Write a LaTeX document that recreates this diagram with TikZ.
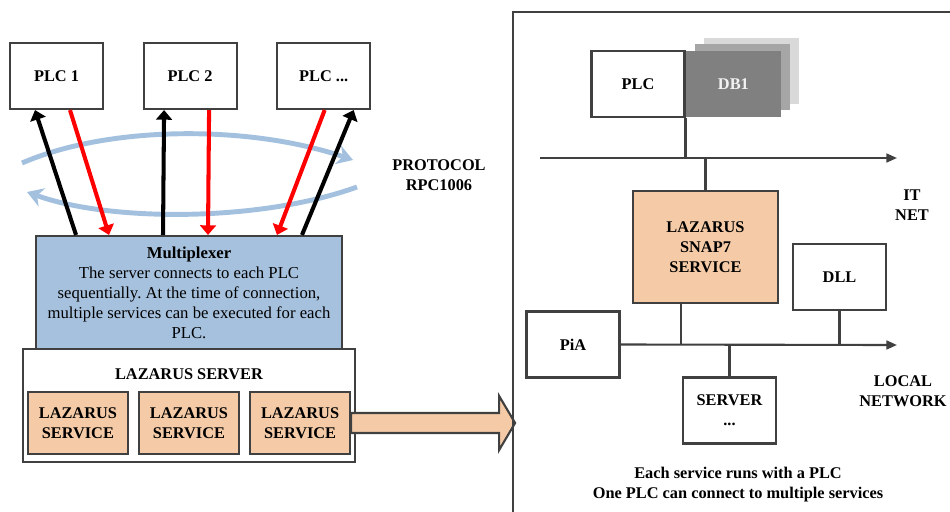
\documentclass[tikz,border=0pt]{standalone}
\usepackage{fontspec}
\setmainfont{Liberation Serif}
\usepackage{tikz}
\usetikzlibrary{positioning,arrows.meta}
\frenchspacing
\definecolor{muxblue}{HTML}{A6C1DD}
\definecolor{svcpeach}{HTML}{F5CBA7}
\definecolor{flowblue}{HTML}{A3C1DF}
\definecolor{edgegray}{HTML}{404040}
\newcommand{\diagfont}{\fontsize{9.3}{11.4}\selectfont}
\tikzset{
  plcbox/.style={rectangle, draw=edgegray, line width=1.2pt, fill=white, minimum width=1.86cm, minimum height=1.32cm, inner sep=1pt, font=\diagfont\bfseries, align=center},
  svcbox/.style={plcbox, fill=svcpeach, minimum width=2.0cm, minimum height=1.24cm},
  dbbox/.style={rectangle, minimum width=1.9cm, minimum height=1.32cm, inner sep=1pt, font=\diagfont\bfseries},
  txt/.style={font=\diagfont\bfseries, align=center},
  plcup/.style={-{Triangle[length=5.5pt,width=9pt]}, line width=2.3pt},
  plcdown/.style={plcup, red},
  flow/.style={-{Stealth[length=9pt,width=11pt]}, line width=2.8pt, draw=flowblue},
  bus/.style={-{Triangle[length=6pt,width=5pt]}, line width=1.2pt, draw=edgegray},
  wire/.style={line width=1.2pt, draw=edgegray},
}
\begin{document}
\begin{tikzpicture}[x=0.02cm, y=-0.02cm]
  \useasboundingbox (0,0) rectangle (950,511);
  \clip (0,0) rectangle (950,511);

  % left side: PLCs, multiplexer, server
  \node[plcbox] (plc1) at (56.5,76) {PLC 1};
  \node[plcbox] (plc2) [right=0.77cm of plc1] {PLC 2};
  \node[plcbox] (plc3) [right=0.77cm of plc2] {PLC ...};

  \coordinate (flowA) at (22,163);
  \coordinate (flowB) at (353,160);
  \coordinate (flowC) at (357,187);
  \coordinate (flowD) at (27,192);
  \draw[flow] (flowA) .. controls (110,125) and (250,125) .. (flowB);
  \draw[flow] (flowC) .. controls (260,222) and (110,222) .. (flowD);

  \node[rectangle, draw=edgegray, line width=1.2pt, fill=white, minimum width=6.64cm, minimum height=2.26cm] (srv) at (189,405.5) {};
  \node[rectangle, draw=edgegray, line width=1.2pt, fill=muxblue, minimum width=6.12cm, minimum height=2.26cm,
        font=\fontsize{9.5}{11.4}\selectfont, align=center] (mux) at (189,292.5)
    {{\bfseries Multiplexer}\\The server connects to each PLC\\sequentially. At the time of connection,\\multiple services can be executed for each\\PLC.};
  \node[txt] (srvtitle) at (189,374) {LAZARUS SERVER};

  \node[svcbox] (svc2) at (189,423) {LAZARUS\\SERVICE};
  \node[svcbox] (svc1) [left=0.18cm of svc2] {LAZARUS\\SERVICE};
  \node[svcbox] (svc3) [right=0.18cm of svc2] {LAZARUS\\SERVICE};

  \draw[plcup] ([xshift=-2.26cm]mux.north) -- ([xshift=-0.43cm]plc1.south);
  \draw[plcdown] ([xshift=0.27cm]plc1.south) -- ([xshift=-1.6cm]mux.north);
  \draw[plcup] ([xshift=-0.52cm]mux.north) -- ([xshift=-0.52cm]plc2.south);
  \draw[plcdown] ([xshift=0.38cm]plc2.south) -- ([xshift=0.38cm]mux.north);
  \draw[plcdown] ([xshift=0.02cm]plc3.south) -- ([xshift=1.76cm]mux.north);
  \draw[plcup] ([xshift=2.26cm]mux.north) -- ([xshift=0.6cm]plc3.south);

  \node[txt] (protocol) at (439,175) {PROTOCOL\\RPC1006};

  % big arrow into the detail frame
  \draw[line width=1.2pt, draw=edgegray, fill=svcpeach, line join=miter]
    (svc3.east) ++(0,-10) -- ++(148,0) -- ++(0,-17) -- ++(16,27) -- ++(-16,27) -- ++(0,-17) -- ++(-148,0) -- cycle;

  % right side: detail of one service
  \draw[wire] (513,530) -- (513,12) -- (970,12);

  \node[plcbox] (plcR) at (638,84) {PLC};
  \node[dbbox, fill=black!15] (db3) [right=0pt of plcR, xshift=0.36cm, yshift=0.26cm] {};
  \node[dbbox, fill=black!35] (db2) [right=0pt of plcR, xshift=0.18cm, yshift=0.14cm] {};
  \node[dbbox, fill=black!50, text=black!5] (db1) [right=0pt of plcR] {DB1};

  \coordinate (itstart) at (540,158);
  \coordinate (itend) at (897,158);
  \draw[bus] (itstart) -- (itend);
  \node[txt] (itnet) at (912,205) {IT\\NET};

  \node[plcbox, fill=svcpeach, minimum width=2.9cm, minimum height=2.24cm] (snap) at (705.5,247) {LAZARUS\\SNAP7\\SERVICE};
  \node[plcbox] (dll) at (839.5,277) {DLL};
  \node[plcbox] (pia) at (573,344.5) {PiA};
  \node[plcbox] (srvr) at (729.5,410.5) {SERVER\\...};

  \coordinate (lnend) at (897,345);
  \draw[bus] (pia.east) -- (lnend);
  \node[txt] (localnet) at (903,391) {LOCAL\\NETWORK};

  \draw[wire] (plcR.south east) -- (plcR.south east |- itstart);
  \draw[wire] (snap.north) -- (snap.north |- itstart);
  \draw[wire] ([xshift=-0.49cm]snap.south) -- ([xshift=-0.49cm]snap.south |- pia.east);
  \draw[wire] (dll.south) -- (dll.south |- pia.east);
  \draw[wire] (srvr.north) -- (srvr.north |- pia.east);

  \node[txt] (note) at (738,485) {Each service runs with a PLC\\One PLC can connect to multiple services};
\end{tikzpicture}
\end{document}
